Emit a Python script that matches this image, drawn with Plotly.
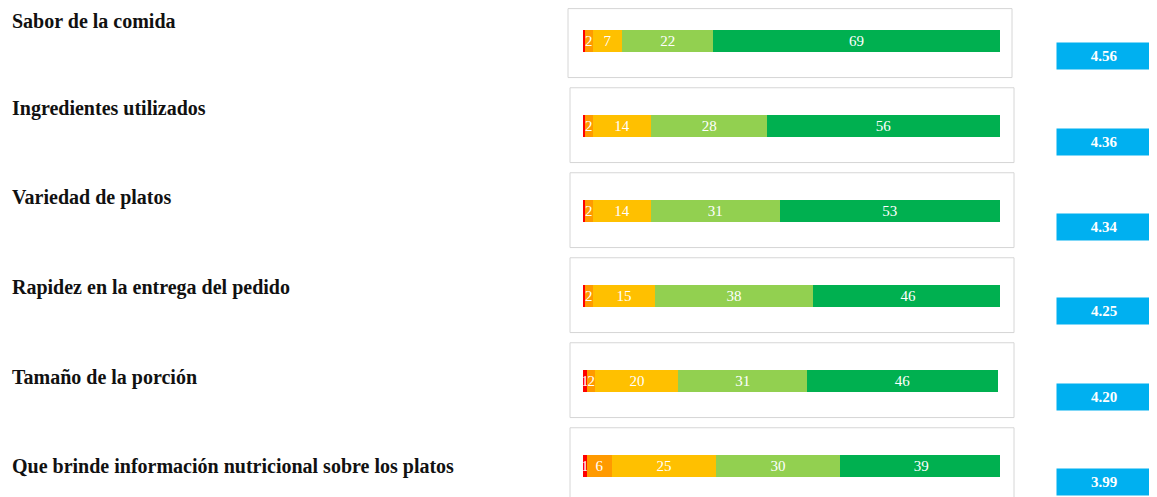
import plotly.graph_objects as go

categories = [
    "Sabor de la comida",
    "Ingredientes utilizados",
    "Variedad de platos",
    "Rapidez en la entrega del pedido",
    "Tamaño de la porción",
    "Que brinde información nutricional sobre los platos",
]
muy_malo = [0.4, 0.4, 0.4, 0.4, 1, 1]
muy_malo_lbl = ["", "", "", "", "1", "1"]
malo = [2, 2, 2, 2, 2, 6]
regular = [7, 14, 14, 15, 20, 25]
bueno = [22, 28, 31, 38, 31, 30]
muy_bueno = [69, 56, 53, 46, 46, 39]
scores = ["4.56", "4.36", "4.34", "4.25", "4.20", "3.99"]

OFF = 8  # browser body margin
W, H = 1157 - OFF, 497 - OFF
FONT = "Liberation Serif"

series = [
    (muy_malo, "#FF0000", muy_malo_lbl),
    (malo, "#FF9A00", [str(v) for v in malo]),
    (regular, "#FFC000", [str(v) for v in regular]),
    (bueno, "#92D050", [str(v) for v in bueno]),
    (muy_bueno, "#00B050", [str(v) for v in muy_bueno]),
]

fig = go.Figure()
for vals, col, lbl in series:
    fig.add_trace(go.Bar(
        x=vals, y=categories, orientation="h",
        marker=dict(color=col, line=dict(width=0)),
        width=0.25, text=lbl, textposition="inside", textangle=0,
        insidetextanchor="middle", constraintext="none",
        textfont=dict(family=FONT, size=15, color="white"),
        hoverinfo="skip", showlegend=False,
    ))

def px(v):
    return (v - OFF) / W

x0 = px(583)
x1 = px(1000)
row0 = 41 - OFF
step = 85
ytop = -row0 / step
ybot = (H - row0) / step

box_left = [568, 570, 570, 570, 570, 570]
label_shift = [20, 18, 14, 9, 4, 0]
score_shift = [-15, -16, -16, -15, -16, -16]
for i, cat in enumerate(categories):
    top = i - 0.45 if i > 0 else ytop + 0.6 / step
    fig.add_shape(type="rect", xref="paper", yref="y",
                  x0=px(box_left[i]), x1=px(box_left[i] + 444),
                  y0=top, y1=i + 0.43,
                  line=dict(color="#D6D6D6", width=1), fillcolor="rgba(0,0,0,0)",
                  layer="below")
    fig.add_annotation(xref="paper", yref="y", x=px(10), y=i, yshift=label_shift[i],
                       xanchor="left", yanchor="middle", text=cat, showarrow=False,
                       font=dict(family=FONT, size=20, color="#111111", weight="bold"))
    fig.add_annotation(xref="paper", yref="y", x=px(1104), y=i, yshift=score_shift[i],
                       xanchor="center", yanchor="middle", text=scores[i], showarrow=False,
                       width=92, height=24, bgcolor="#00B0F0",
                       font=dict(family=FONT, size=15, color="white", weight="bold"))

fig.update_layout(
    width=W, height=H, barmode="stack",
    margin=dict(l=0, r=0, t=0, b=0),
    plot_bgcolor="white", paper_bgcolor="white",
    xaxis=dict(domain=[x0, x1], range=[0, 100.5], visible=False, fixedrange=True),
    yaxis=dict(domain=[0, 1], range=[ybot, ytop], visible=False,
               categoryorder="array", categoryarray=categories, fixedrange=True),
)

fig.write_html("out.html")
